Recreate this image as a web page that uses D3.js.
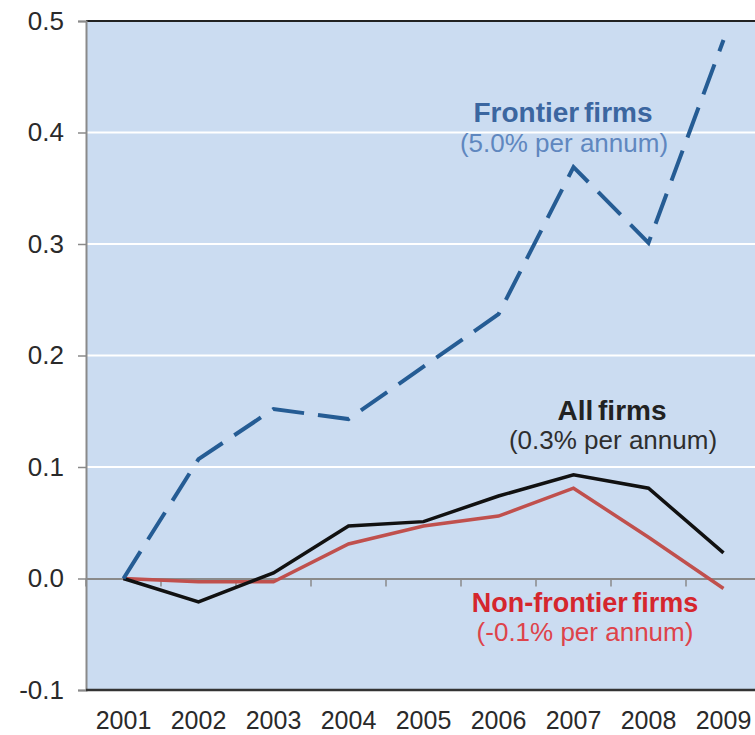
<!DOCTYPE html>
<html>
<head>
<meta charset="utf-8">
<script src="https://cdn.jsdelivr.net/npm/d3@7"></script>
<style>
  html, body { margin: 0; padding: 0; background: #fff; }
  svg { display: block; font-family: "Liberation Sans", Arial, sans-serif; }
</style>
</head>
<body>
<div id="chart"></div>
<script>
const years = ["2001", "2002", "2003", "2004", "2005", "2006", "2007", "2008", "2009"];
const frontier = [0, 0.107, 0.152, 0.143, 0.19, 0.237, 0.369, 0.301, 0.483];
const allFirms = [0, -0.021, 0.005, 0.047, 0.051, 0.074, 0.093, 0.081, 0.023];
const nonFrontier = [0, -0.003, -0.003, 0.031, 0.047, 0.056, 0.081, 0.037, -0.009];
const yTicks = [-0.1, 0, 0.1, 0.2, 0.3, 0.4, 0.5];

const width = 755, height = 735;
const plotLeft = 86, plotRight = 761, plotTop = 21, plotBottom = 690;

const svg = d3.select("#chart")
  .append("svg")
    .attr("width", width)
    .attr("height", height);

const x = d3.scaleBand().domain(years).range([plotLeft, plotRight]).padding(0);
const y = d3.scaleLinear().domain([-0.1, 0.5]).range([plotBottom, plotTop]);
const cx = d => x(d) + x.bandwidth() / 2;

// plot background
svg.append("rect")
  .attr("x", plotLeft).attr("y", plotTop)
  .attr("width", plotRight - plotLeft).attr("height", plotBottom - plotTop)
  .attr("fill", "#cbdcf1");

// white gridlines
svg.append("g")
  .selectAll("line")
  .data(yTicks.filter(t => t > 0 && t < 0.5))
  .join("line")
    .attr("x1", plotLeft).attr("x2", plotRight)
    .attr("y1", d => y(d)).attr("y2", d => y(d))
    .attr("stroke", "#fff").attr("stroke-width", 2);

// top border
svg.append("line")
  .attr("x1", plotLeft).attr("x2", plotRight)
  .attr("y1", plotTop).attr("y2", plotTop)
  .attr("stroke", "#222").attr("stroke-width", 2);

// y axis
const yAxis = svg.append("g")
  .attr("transform", `translate(${plotLeft},0)`)
  .call(d3.axisLeft(y).tickValues(yTicks).tickFormat(d => d.toFixed(1)).tickSize(8).tickPadding(14));
yAxis.select(".domain").attr("stroke", "#8a8a8a").attr("stroke-width", 2);
yAxis.selectAll(".tick line").attr("stroke", "#8a8a8a").attr("stroke-width", 1.5);
yAxis.selectAll(".tick text")
  .attr("font-size", 26).attr("fill", "#2a2a2a")
  .attr("font-family", "Liberation Sans, Arial, sans-serif");

// category axis crossing at zero
const zeroAxis = svg.append("g")
  .attr("transform", `translate(0,${y(0)})`)
  .call(d3.axisBottom(x).tickSizeInner(8).tickSizeOuter(0).tickFormat(""));
zeroAxis.select(".domain").attr("stroke", "#8a8a8a").attr("stroke-width", 2);
zeroAxis.selectAll(".tick line")
  .attr("stroke", "#8a8a8a").attr("stroke-width", 1.5)
  .attr("transform", `translate(${-x.bandwidth() / 2},0)`);

// bottom border
svg.append("line")
  .attr("x1", plotLeft).attr("x2", plotRight)
  .attr("y1", plotBottom).attr("y2", plotBottom)
  .attr("stroke", "#333").attr("stroke-width", 2.5);

// year labels
svg.append("g")
  .selectAll("text")
  .data(years)
  .join("text")
    .attr("x", d => cx(d))
    .attr("y", 729)
    .attr("text-anchor", "middle")
    .attr("font-size", 25)
    .attr("fill", "#2a2a2a")
    .text(d => d);

const line = d3.line().x((d, i) => cx(years[i])).y(d => y(d));

svg.append("path")
  .datum(nonFrontier)
  .attr("d", line)
  .attr("fill", "none")
  .attr("stroke", "#c0504d")
  .attr("stroke-width", 3.5);

svg.append("path")
  .datum(allFirms)
  .attr("d", line)
  .attr("fill", "none")
  .attr("stroke", "#111")
  .attr("stroke-width", 3.5);

svg.append("path")
  .datum(frontier)
  .attr("d", line)
  .attr("fill", "none")
  .attr("stroke", "#255c94")
  .attr("stroke-width", 4)
  .attr("stroke-dasharray", "32,14");

// annotations
const notes = [
  { x: 563, y: 122, text: "Frontier firms", fill: "#3b66a0", bold: true, size: 28 },
  { x: 564, y: 152, text: "(5.0% per annum)", fill: "#5f87bf", bold: false, size: 26 },
  { x: 612, y: 420, text: "All firms", fill: "#222", bold: true, size: 28 },
  { x: 613, y: 449, text: "(0.3% per annum)", fill: "#2e2e2e", bold: false, size: 26 },
  { x: 585, y: 612, text: "Non-frontier firms", fill: "#d5262d", bold: true, size: 27 },
  { x: 585, y: 641, text: "(-0.1% per annum)", fill: "#de434a", bold: false, size: 26 }
];

svg.append("g")
  .selectAll("text")
  .data(notes)
  .join("text")
    .attr("x", d => d.x)
    .attr("y", d => d.y)
    .attr("text-anchor", "middle")
    .attr("font-size", d => d.size)
    .attr("font-weight", d => d.bold ? "bold" : "normal")
    .attr("word-spacing", d => d.bold ? -3 : 0)
    .attr("fill", d => d.fill)
    .text(d => d.text);
</script>
</body>
</html>
